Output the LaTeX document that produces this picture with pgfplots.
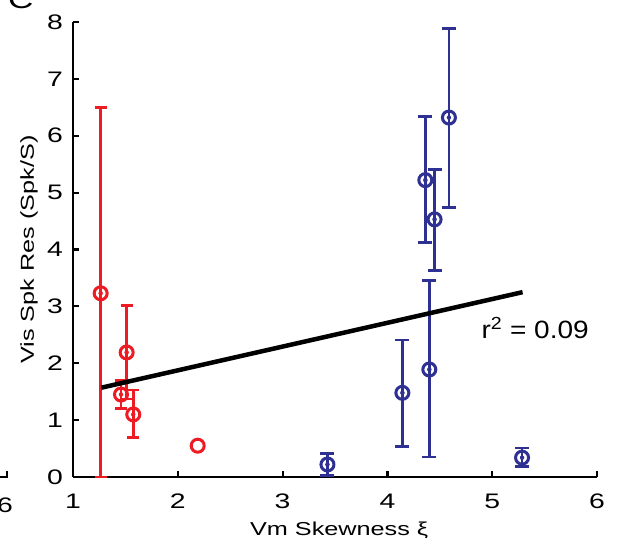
\documentclass[border=0pt]{standalone}
\usepackage{fontspec}
\setmainfont[FakeStretch=1.35]{Liberation Sans}
\newfontfamily\rfont[FakeStretch=1.12]{Liberation Sans}
\usepackage{pgfplots}
\pgfplotsset{compat=1.18}
\usepackage{pgfplotstable}
\definecolor{myred}{RGB}{237,28,36}
\definecolor{myblue}{RGB}{46,49,146}
\pgfplotstableread{
x     y     ep    em
1.264 3.23  3.27  3.23
1.512 2.19  0.82  0.82
1.458 1.45  0.25  0.24
1.575 1.10  0.43  0.41
2.19  0.55  0     0
}\reddata
\pgfplotstableread{
x     y     ep    em
3.428 0.22  0.19  0.20
4.143 1.48  0.93  0.95
4.40  1.89  1.56  1.54
4.45  4.53  0.87  0.90
4.362 5.22  1.12  1.09
4.587 6.32  1.56  1.58
5.285 0.34  0.17  0.16
}\bluedata
\begin{document}
\begin{tikzpicture}
\begin{axis}[
  scale only axis, width=524pt, height=455pt,
  xmin=1, xmax=6, ymin=0, ymax=8,
  axis lines=left, axis line style={-, line width=2.2pt, black},
  xtick={1,2,3,4,5,6}, ytick={0,1,2,3,4,5,6,7,8},
  tick align=inside, major tick length=6pt,
  tick style={line width=2.2pt, black},
  /pgf/number format/assume math mode=true,
  tick label style={font=\fontsize{21}{21}\selectfont, inner sep=0pt},
  xticklabel style={anchor=north, yshift=-17pt},
  yticklabel style={anchor=east, xshift=-10pt},
  xlabel={Vm Skewness ξ},
  ylabel={Vis Spk Res (Spk/S)},
  label style={font=\fontsize{18.7}{18.7}\selectfont, inner sep=0pt},
  xlabel style={at={(axis description cs:0.508,-0.099)}, anchor=north},
  ylabel style={at={(axis description cs:-0.084,0.5)}, anchor=center},
  clip=false,
]
\coordinate (bl) at (axis cs:1,0);
\coordinate (tr) at (axis cs:6,8);
% red error bars (first four points)
\addplot[color=myred, only marks, mark=none, restrict expr to domain={\coordindex}{0:3},
  error bars/.cd, y dir=both, y explicit,
  error bar style={line width=2.8pt, myred},
  error mark options={rotate=90, line width=2.8pt, mark size=6pt, myred}]
  table[x=x, y=y, y error plus=ep, y error minus=em] {\reddata};
% blue error bars
\addplot[color=myblue, only marks, mark=none,
  error bars/.cd, y dir=both, y explicit,
  error bar style={line width=2.8pt, myblue},
  error mark options={rotate=90, line width=2.8pt, mark size=7pt, myblue}]
  table[x=x, y=y, y error plus=ep, y error minus=em] {\bluedata};
% regression line
\addplot[black, line width=4.5pt, no marks] coordinates {(1.27,1.57) (5.29,3.25)};
% markers
\addplot[color=myred, line width=3pt, only marks, mark=o, mark size=6.5pt,
  mark options={fill=white, line width=3pt}]
  table[x=x, y=y] {\reddata};
\addplot[color=myblue, line width=3pt, only marks, mark=o, mark size=6.5pt,
  mark options={fill=white, line width=3pt}]
  table[x=x, y=y] {\bluedata};
\node[font=\rfont\fontsize{25}{25}\selectfont, inner sep=0pt] at (axis cs:5.41,2.62) {r\textsuperscript{2} = 0.09};
\end{axis}
\pgfresetboundingbox
\path[use as bounding box] ([xshift=-73pt,yshift=-76pt]bl) rectangle ([xshift=20pt,yshift=22pt]tr);
% fragments of neighbouring panel
\node[anchor=base east, inner sep=0pt, font=\fontsize{21}{21}\selectfont] at ([xshift=-60pt,yshift=-35pt]bl) {6};
\draw[line width=2.2pt] ([xshift=-75pt]bl) -- ([xshift=-66pt]bl) -- ([xshift=-66pt,yshift=6pt]bl);
\node[anchor=south west, inner sep=0pt, font=\fontsize{26}{26}\selectfont] at ([xshift=-65pt,yshift=13pt]tr -| bl) {C};
\end{tikzpicture}
\end{document}
